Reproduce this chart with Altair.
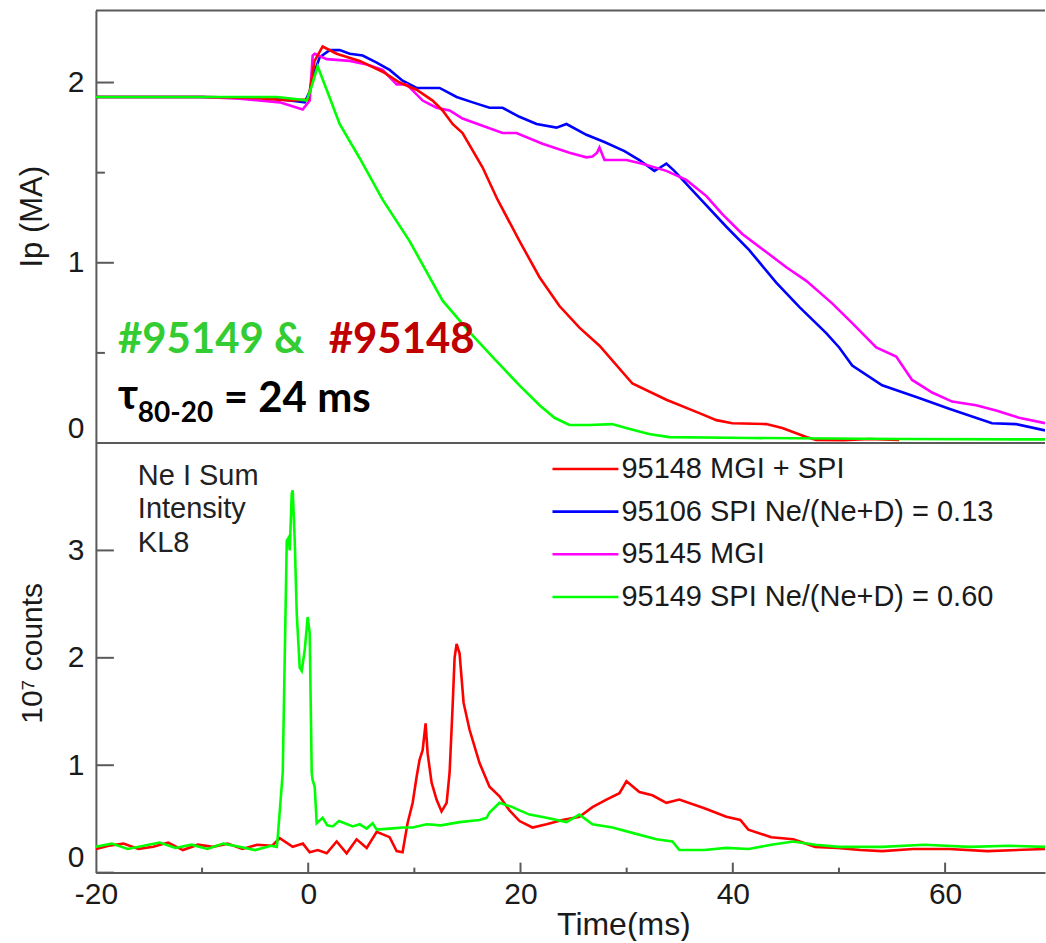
import altair as alt
import pandas as pd

# ---------------- data ----------------
# Top panel: plasma current Ip (MA) vs time (ms)
ip_red_t = [-20, -10, -5, -1.74, -0.05, 0.14, 0.6, 1.36, 2.68, 4.85, 7.01, 8.61, 10.21, 11.72, 12.66, 13.60,
            14.54, 16.42, 17.84, 19.91, 21.79, 23.67, 25.55, 27.44, 30.54, 33.74, 36.85, 38.45, 39.95, 43.15,
            44.66, 46.92, 47.86, 50.5, 52.85, 55.67]
ip_red_v = [1.92, 1.92, 1.915, 1.90, 1.905, 1.95, 2.12, 2.20, 2.16, 2.12, 2.06, 2.00, 1.96, 1.90, 1.845, 1.77,
            1.72, 1.53, 1.35, 1.12, 0.92, 0.76, 0.64, 0.54, 0.33, 0.24, 0.166, 0.127, 0.11, 0.105,
            0.083, 0.033, 0.017, 0.015, 0.022, 0.017]

ip_blue_t = [-20, -10, -4, -1.74, -0.33, 0.14, 0.6, 1.08, 2.02, 2.96, 3.91, 5.13, 6.45, 7.67, 8.89, 10.21,
             11.44, 12.38, 13.98, 15.5, 17.08, 18.31, 19.9, 21.51, 23.39, 24.33, 26.21, 27.9, 29.79, 31.2,
             32.61, 33.2, 33.74, 34.49, 36.85, 39.39, 41.55, 44.09, 46.26, 48.80, 50.02, 51.25, 54.07, 57.55,
             60.38, 64.42, 66.68, 69.41]
ip_blue_v = [1.92, 1.92, 1.915, 1.90, 1.89, 1.95, 2.06, 2.14, 2.18, 2.18, 2.16, 2.15, 2.11, 2.07, 2.01, 1.97,
             1.97, 1.97, 1.92, 1.89, 1.86, 1.86, 1.81, 1.77, 1.75, 1.77, 1.71, 1.67, 1.62, 1.57,
             1.51, 1.53, 1.55, 1.51, 1.36, 1.20, 1.07, 0.89, 0.755, 0.61, 0.53, 0.43, 0.32, 0.25,
             0.19, 0.11, 0.105, 0.07]

ip_mag_t = [-20, -10, -6.45, -2.68, -0.52, 0.14, 0.42, 0.61, 1.74, 3.91, 5.51, 7.01, 8.33, 9.27, 10.78, 12.09,
            13.32, 14.54, 16.42, 18.31, 19.62, 22.07, 24.61, 26.21, 26.78, 27.2, 27.44, 27.91, 29.98, 31.48,
            33.74, 35.62, 37.51, 39.01, 40.89, 43.15, 45.04, 46.92, 49.36, 51.25, 53.51, 55.39, 56.89, 58.78,
            60.66, 62.92, 64.80, 66.96, 69.41]
ip_mag_v = [1.92, 1.92, 1.91, 1.89, 1.85, 1.90, 2.15, 2.16, 2.13, 2.12, 2.10, 2.07, 1.99, 1.99, 1.90, 1.86,
            1.845, 1.80, 1.76, 1.72, 1.72, 1.66, 1.61, 1.585, 1.59, 1.61, 1.64, 1.57, 1.57, 1.55,
            1.51, 1.46, 1.37, 1.27, 1.16, 1.06, 0.975, 0.90, 0.775, 0.665, 0.53, 0.48, 0.35, 0.28,
            0.23, 0.21, 0.18, 0.14, 0.11]

ip_grn_t = [-20, -10, -2.96, -0.8, -0.14, 0.33, 0.89, 1.74, 2.96, 4.85, 7.01, 9.55, 12.66, 15.2, 17.65, 19.9,
            21.8, 23.2, 24.6, 26.5, 28.6, 30.3, 32.1, 34.0, 41.6, 55.7, 69.41]
ip_grn_v = [1.92, 1.92, 1.92, 1.906, 1.90, 1.98, 2.09, 1.96, 1.77, 1.58, 1.35, 1.12, 0.79, 0.615, 0.46, 0.32,
            0.21, 0.14, 0.10, 0.10, 0.105, 0.078, 0.05, 0.033, 0.028, 0.022, 0.02]

# Bottom panel: Ne I sum intensity (10^7 counts) vs time (ms)
ne_red_t = [-20, -18.8, -17.4, -16, -14.6, -13.2, -11.8, -10.4, -9, -7.6, -6.2, -4.8, -3.4, -2.68, -1.46, -0.5,
            0.14, 0.9, 1.74, 2.68, 3.62, 4.56, 5.51, 6.45, 7.67, 8.33, 8.89, 9.36, 9.84, 10.21, 10.49, 10.78,
            11.06, 11.25, 11.62, 12.09, 12.56, 13.04, 13.32, 13.60, 13.79, 13.98, 14.26, 14.64, 15.20, 16.14,
            17.08, 18.02, 18.96, 19.91, 21.13, 22.45, 23.95, 25.55, 26.78, 28.09, 29.32, 29.98, 31.20, 32.42,
            33.74, 34.96, 37.32, 39.39, 40.71, 41.46, 43.62, 45.69, 47.76, 49.84, 52.0, 54.07, 57.0, 60.38,
            64.0, 69.41]
ne_red_v = [0.22, 0.25, 0.27, 0.22, 0.24, 0.28, 0.21, 0.26, 0.24, 0.27, 0.22, 0.26, 0.25, 0.32, 0.24, 0.27,
            0.19, 0.21, 0.18, 0.29, 0.18, 0.31, 0.23, 0.38, 0.33, 0.20, 0.19, 0.46, 0.65, 0.89, 1.05, 1.14,
            1.39, 1.11, 0.84, 0.68, 0.57, 0.65, 0.93, 1.54, 2.0, 2.13, 2.04, 1.58, 1.33, 1.02,
            0.80, 0.71, 0.58, 0.48, 0.42, 0.45, 0.49, 0.52, 0.61, 0.68, 0.74, 0.85, 0.75, 0.72,
            0.65, 0.68, 0.60, 0.52, 0.49, 0.40, 0.33, 0.31, 0.24, 0.23, 0.21, 0.20, 0.22, 0.22,
            0.20, 0.22]

ne_grn_t = [-20, -18.5, -17, -15.5, -14, -12.5, -11, -9.5, -8, -6.5, -5, -3.5, -2.96, -2.87, -2.40, -2.02,
            -1.84, -1.74, -1.55, -1.46, -1.27, -1.08, -0.80, -0.61, -0.33, -0.05, 0.14, 0.33, 0.42, 0.61,
            0.80, 1.36, 1.8, 2.31, 2.9, 3.44, 4.2, 4.85, 5.5, 6.07, 6.45, 7.67, 8.89, 9.84, 11.15, 12.5,
            14.26, 16.14, 16.80, 17.08, 18.02, 19.25, 19.91, 20.85, 22.45, 24.33, 25.55, 26.78, 28.66, 30.54,
            32.80, 34.31, 34.96, 37.32, 39.39, 41.5, 43.62, 45.69, 47.76, 50.0, 54.07, 58.0, 62.35, 66.0, 69.41]
ne_grn_v = [0.24, 0.27, 0.22, 0.25, 0.28, 0.23, 0.26, 0.22, 0.27, 0.24, 0.21, 0.25, 0.24, 0.33, 0.93, 3.09,
            3.12, 3.0, 3.53, 3.56, 3.09, 2.41, 1.91, 1.88, 2.07, 2.38, 2.23, 0.93, 0.86, 0.80,
            0.46, 0.51, 0.44, 0.43, 0.48, 0.46, 0.43, 0.45, 0.41, 0.46, 0.40, 0.41, 0.42, 0.42, 0.45, 0.44,
            0.47, 0.49, 0.51, 0.56, 0.65, 0.61, 0.58, 0.54, 0.51, 0.47, 0.54, 0.45, 0.42, 0.37,
            0.31, 0.29, 0.21, 0.21, 0.23, 0.22, 0.26, 0.29, 0.26, 0.24, 0.24, 0.26, 0.24, 0.25, 0.24]

shot_labels = ["95148 MGI + SPI", "95106 SPI Ne/(Ne+D) = 0.13", "95145 MGI", "95149 SPI Ne/(Ne+D) = 0.60"]
shot_colors = ["#ff0000", "#0000ff", "#ff00ff", "#00ff00"]

ip_ticks_major = [0, 1, 2]
ip_ticks_minor = [0.5, 1.5]
ne_ticks = [0, 1, 2, 3]
time_labels = [-20, 0, 20, 40, 60]
time_ticks_major = [0, 20, 40, 60]
time_ticks_minor = [-10, 10, 30, 50]

annot_shots = ["#95149 &", "#95148"]
annot_tau = ["τ", "80-20", "= 24 ms"]
ne_note = ["Ne I Sum", "Intensity", "KL8"]

# ---------------- layout / style ----------------
W, H1, H2 = 950, 433, 430
FONT = "Liberation Sans"
BOLD = "Lato, 'Open Sans', sans-serif"
AX = "#5a5a5a"
TXT = "#1a1a1a"

xs = alt.Scale(domain=[-20, 69.41], nice=False, zero=False)
ys_top = alt.Scale(domain=[0, 2.4], nice=False, zero=False)
ys_bot = alt.Scale(domain=[0, 4], nice=False, zero=False)

x_top = alt.X("t:Q", scale=xs, axis=None)
x_bot = alt.X("t:Q", scale=xs, axis=alt.Axis(
    values=time_labels, labelExpr="'' + datum.value", tickSize=0, labelPadding=7, labelFont=FONT,
    labelFontSize=30, labelColor=TXT, labelFlush=False, domainColor=AX, domainWidth=2, grid=False,
    title="Time(ms)", titleFont=FONT, titleFontSize=32, titleFontWeight="normal", titleColor=TXT,
    titleX=528, titleY=62, titleAlign="center", titleBaseline="alphabetic"))

y_top = alt.Y("v:Q", scale=ys_top, axis=alt.Axis(
    values=ip_ticks_major, tickSize=0, labelPadding=12, labelFont=FONT, labelFontSize=30,
    labelColor=TXT, labelFlush=True, domainColor=AX, domainWidth=2, grid=False,
    title="Ip (MA)", titleFont=FONT, titleFontSize=31, titleFontWeight="normal", titleColor=TXT,
    titleAngle=270, titleX=-54, titleY=206, titleAlign="center", titleBaseline="alphabetic"))

y_bot = alt.Y("v:Q", scale=ys_bot, axis=alt.Axis(
    values=ne_ticks, tickSize=0, labelPadding=12, labelFont=FONT, labelFontSize=30,
    labelColor=TXT, labelFlush=True, domainColor=AX, domainWidth=2, grid=False,
    title="10⁷ counts", titleFont=FONT, titleFontSize=30, titleFontWeight="normal", titleColor=TXT,
    titleAngle=270, titleX=-54, titleY=210, titleAlign="center", titleBaseline="alphabetic"))


def series(t, v):
    return pd.DataFrame({"t": t, "v": v})


def line(df, color, x_enc, y_enc):
    return alt.Chart(df).mark_line(color=color, strokeWidth=2.6, clip=True).encode(x=x_enc, y=y_enc)


one = pd.DataFrame({"k": [0]})

# ---------------- top panel ----------------
top_layers = [
    # invisible anchor that fixes the chart's left / top extent
    alt.Chart(one).mark_rule(strokeOpacity=0, strokeWidth=0).encode(
        x=alt.value(-96), x2=alt.value(0), y=alt.value(-10)),
    alt.Chart(one).mark_rule(color=AX, strokeWidth=2).encode(x=alt.value(0), x2=alt.value(W), y=alt.value(0)),
    alt.Chart(one).mark_rule(color=AX, strokeWidth=2).encode(x=alt.value(0), x2=alt.value(W), y=alt.value(H1)),
    alt.Chart(pd.DataFrame({"v": ip_ticks_major})).mark_rule(color=AX, strokeWidth=2).encode(
        x=alt.value(0), x2=alt.value(18), y=y_top),
    alt.Chart(pd.DataFrame({"v": ip_ticks_minor})).mark_rule(color=AX, strokeWidth=2).encode(
        x=alt.value(0), x2=alt.value(9), y=y_top),
    line(series(ip_blue_t, ip_blue_v), shot_colors[1], x_top, y_top),
    line(series(ip_mag_t, ip_mag_v), shot_colors[2], x_top, y_top),
    line(series(ip_red_t, ip_red_v), shot_colors[0], x_top, y_top),
    line(series(ip_grn_t, ip_grn_v), shot_colors[3], x_top, y_top),
    alt.Chart(pd.DataFrame({"s": [annot_shots[0]]})).mark_text(
        align="left", baseline="alphabetic", font=BOLD, fontWeight="bold", fontSize=42, color="#33cc33"
    ).encode(x=alt.value(22), y=alt.value(343), text="s:N"),
    alt.Chart(pd.DataFrame({"s": [annot_shots[1]]})).mark_text(
        align="left", baseline="alphabetic", font=BOLD, fontWeight="bold", fontSize=42, color="#c00000"
    ).encode(x=alt.value(233), y=alt.value(343), text="s:N"),
    alt.Chart(pd.DataFrame({"s": [annot_tau[0]]})).mark_text(
        align="left", baseline="alphabetic", font=BOLD, fontWeight="bold", fontSize=42, color="#000000"
    ).encode(x=alt.value(22), y=alt.value(399), text="s:N"),
    alt.Chart(pd.DataFrame({"s": [annot_tau[1]]})).mark_text(
        align="left", baseline="alphabetic", font=BOLD, fontWeight="bold", fontSize=28, color="#000000"
    ).encode(x=alt.value(42), y=alt.value(412), text="s:N"),
    alt.Chart(pd.DataFrame({"s": [annot_tau[2]]})).mark_text(
        align="left", baseline="alphabetic", font=BOLD, fontWeight="bold", fontSize=42, color="#000000"
    ).encode(x=alt.value(128), y=alt.value(402), text="s:N"),
]
top = alt.layer(*top_layers).properties(width=W, height=H1)

# ---------------- bottom panel ----------------
bot_layers = [
    alt.Chart(pd.DataFrame({"v": ne_ticks})).mark_rule(color=AX, strokeWidth=2).encode(
        x=alt.value(0), x2=alt.value(18), y=y_bot),
    alt.Chart(pd.DataFrame({"t": time_ticks_major})).mark_rule(color=AX, strokeWidth=2).encode(
        x=x_bot, y=alt.value(H2 - 10), y2=alt.value(H2)),
    alt.Chart(pd.DataFrame({"t": time_ticks_minor})).mark_rule(color=AX, strokeWidth=2).encode(
        x=x_bot, y=alt.value(H2 - 5), y2=alt.value(H2)),
    line(series(ne_red_t, ne_red_v), shot_colors[0], x_bot, y_bot),
    line(series(ne_grn_t, ne_grn_v), shot_colors[3], x_bot, y_bot),
]
for i, txt in enumerate(ne_note):
    bot_layers.append(
        alt.Chart(pd.DataFrame({"s": [txt]})).mark_text(
            align="left", baseline="alphabetic", font=FONT, fontSize=29, color="#222222"
        ).encode(x=alt.value(42), y=alt.value(42 + 33.5 * i), text="s:N"))
for i, (lab, col) in enumerate(zip(shot_labels, shot_colors)):
    yy = 26 + 42.7 * i
    d = pd.DataFrame({"s": [lab]})
    bot_layers.append(alt.Chart(d).mark_rule(color=col, strokeWidth=2.6).encode(
        x=alt.value(457), x2=alt.value(523), y=alt.value(yy)))
    bot_layers.append(alt.Chart(d).mark_text(
        align="left", baseline="middle", font=FONT, fontSize=29, color=TXT
    ).encode(x=alt.value(526), y=alt.value(yy), text="s:N"))

bottom = alt.layer(*bot_layers).properties(width=W, height=H2)

chart = alt.vconcat(top, bottom, spacing=0).properties(
    bounds="flush", padding=0, background="white"
).configure_view(stroke=None)

chart.save("out.html", embed_options={"renderer": "svg", "actions": False})
